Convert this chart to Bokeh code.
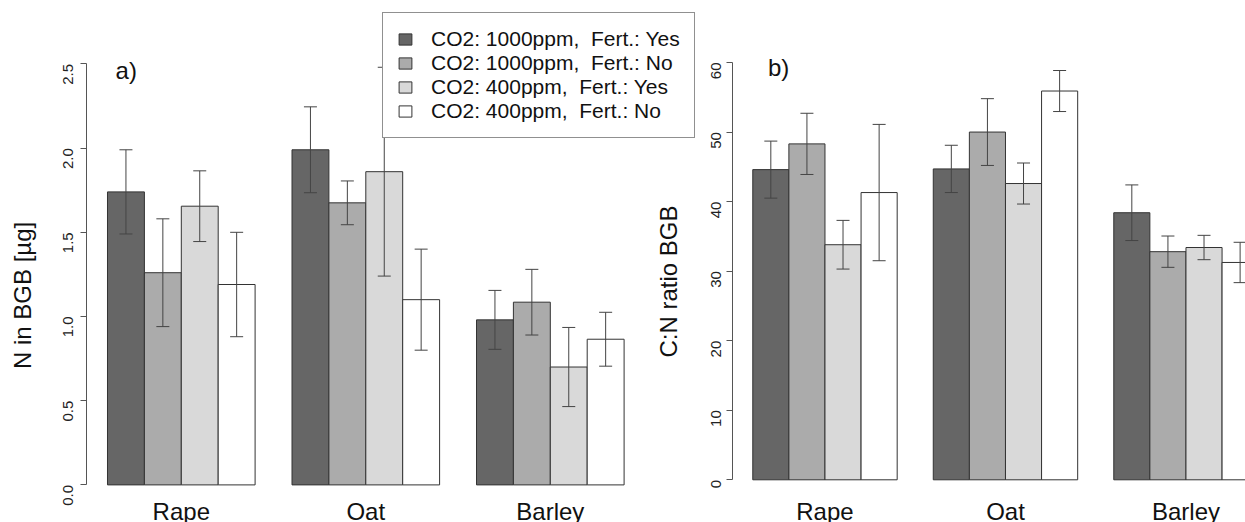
import numpy as np
from bokeh.plotting import figure
from bokeh.models import (Range1d, LinearAxis, FixedTicker, PrintfTickFormatter,
                          ColumnDataSource, Whisker, TeeHead, Legend, LegendItem, Label)
from bokeh.embed import file_html
from bokeh.resources import INLINE

# ---------------- data ----------------
crops = ["Rape", "Oat", "Barley"]
treatments = ["CO2: 1000ppm,  Fert.: Yes", "CO2: 1000ppm,  Fert.: No",
              "CO2: 400ppm,  Fert.: Yes", "CO2: 400ppm,  Fert.: No"]
colors = ["#666666", "#ABABAB", "#D9D9D9", "#FFFFFF"]

# panel a) N in BGB [µg]  (per treatment, values for Rape, Oat, Barley)
n_1000_yes = [1.74, 1.99, 0.98]
n_1000_no = [1.26, 1.675, 1.085]
n_400_yes = [1.655, 1.86, 0.70]
n_400_no = [1.19, 1.10, 0.865]
n_err_1000_yes = [0.25, 0.255, 0.175]
n_err_1000_no = [0.32, 0.13, 0.195]
n_err_400_yes = [0.21, 0.62, 0.235]
n_err_400_no = [0.31, 0.30, 0.16]

# panel b) C:N ratio BGB
cn_1000_yes = [44.6, 44.7, 38.4]
cn_1000_no = [48.3, 50.0, 32.8]
cn_400_yes = [33.8, 42.6, 33.4]
cn_400_no = [41.3, 55.9, 31.25]
cn_err_1000_yes = [4.1, 3.4, 4.0]
cn_err_1000_no = [4.4, 4.8, 2.25]
cn_err_400_yes = [3.5, 2.95, 1.75]
cn_err_400_no = [9.8, 2.95, 2.9]

n_ticks = [0.0, 0.5, 1.0, 1.5, 2.0, 2.5]
cn_ticks = [0, 10, 20, 30, 40, 50, 60]

n_means = [n_1000_yes, n_1000_no, n_400_yes, n_400_no]
n_errs = [n_err_1000_yes, n_err_1000_no, n_err_400_yes, n_err_400_no]
cn_means = [cn_1000_yes, cn_1000_no, cn_400_yes, cn_400_no]
cn_errs = [cn_err_1000_yes, cn_err_1000_no, cn_err_400_yes, cn_err_400_no]

# R barplot(beside=TRUE) layout: bar width 1, one bar of space between groups
n_groups = len(crops)
n_tr = len(treatments)
group_centers = [1 + g * (n_tr + 1) + n_tr / 2 for g in range(n_groups)]

def bar_centers(j):
    return [1 + g * (n_tr + 1) + j + 0.5 for g in range(n_groups)]

# ---------------- figure ----------------
W, H = 1245, 522
FONT = "Liberation Sans"

p = figure(width=W, height=H, output_backend="svg", toolbar_location=None,
           x_axis_location=None, y_axis_location=None, min_border=0,
           x_range=Range1d(-1.8997, 31.84), y_range=Range1d(-0.2233, 2.8765))
p.extra_x_ranges = {"r": Range1d(-19.839, 14.649)}
p.extra_y_ranges = {"r": Range1d(-6.139, 68.915)}
p.outline_line_color = None
p.grid.visible = False
p.background_fill_color = "white"

left_renderers = []
for j in range(n_tr):
    src_l = ColumnDataSource(dict(x=bar_centers(j), top=n_means[j]))
    r = p.vbar(x="x", top="top", bottom=0, width=1, source=src_l,
               fill_color=colors[j], line_color="#333333", line_width=1)
    left_renderers.append(r)
    src_r = ColumnDataSource(dict(x=bar_centers(j), top=cn_means[j]))
    p.vbar(x="x", top="top", bottom=0, width=1, source=src_r,
           fill_color=colors[j], line_color="#333333", line_width=1,
           x_range_name="r", y_range_name="r")

# error bars
def whisker(src, **kw):
    return Whisker(source=src, base="x", upper="up", lower="lo", dimension="height",
                   level="annotation", line_color="#444444", line_width=1,
                   upper_head=TeeHead(size=13, line_color="#444444", line_width=1),
                   lower_head=TeeHead(size=13, line_color="#444444", line_width=1), **kw)

for j in range(n_tr):
    m = np.array(n_means[j]); e = np.array(n_errs[j])
    s = ColumnDataSource(dict(x=bar_centers(j), up=m + e, lo=m - e))
    p.add_layout(whisker(s))
    m = np.array(cn_means[j]); e = np.array(cn_errs[j])
    s = ColumnDataSource(dict(x=bar_centers(j), up=m + e, lo=m - e))
    p.add_layout(whisker(s, x_range_name="r", y_range_name="r"))

# y axes
def style_y(ax, standoff):
    ax.axis_line_color = "#555555"
    ax.major_tick_line_color = "#555555"
    ax.minor_tick_line_color = None
    ax.major_tick_out = 6
    ax.major_tick_in = 0
    ax.major_label_orientation = np.pi / 2
    ax.major_label_standoff = standoff
    ax.major_label_text_font = FONT
    ax.major_label_text_font_size = "15px"
    ax.major_label_text_color = "#222222"

ly = LinearAxis(fixed_location=0.44, bounds=(0, 2.5), ticker=FixedTicker(ticks=n_ticks),
                formatter=PrintfTickFormatter(format="%.1f"))
style_y(ly, 13)
p.add_layout(ly, "left")

ry = LinearAxis(fixed_location=0.44, bounds=(0, 60), ticker=FixedTicker(ticks=cn_ticks),
                x_range_name="r", y_range_name="r")
style_y(ry, 11)
p.add_layout(ry, "left")

# category axes
def style_x(ax, standoff):
    ax.axis_line_color = None
    ax.major_tick_line_color = None
    ax.minor_tick_line_color = None
    ax.major_label_standoff = standoff
    ax.major_label_text_font = FONT
    ax.major_label_text_font_size = "24px"
    ax.major_label_text_color = "#111111"

overrides = {int(c) if float(c).is_integer() else c: name for c, name in zip(group_centers, crops)}
lx = LinearAxis(fixed_location=0, ticker=FixedTicker(ticks=group_centers),
                major_label_overrides=overrides)
style_x(lx, 7)
p.add_layout(lx, "below")
rx = LinearAxis(fixed_location=0, ticker=FixedTicker(ticks=group_centers),
                major_label_overrides=overrides, x_range_name="r", y_range_name="r")
style_x(rx, 12)
p.add_layout(rx, "below")

# axis titles and panel letters
p.add_layout(Label(x=-1.29, y=1.125, text="N in BGB [µg]", angle=np.pi / 2,
                   text_align="center", text_baseline="middle",
                   text_font=FONT, text_font_size="24px", text_color="#111111"))
p.add_layout(Label(x=-1.335, y=28.5, text="C:N ratio BGB", angle=np.pi / 2,
                   text_align="center", text_baseline="middle",
                   x_range_name="r", y_range_name="r",
                   text_font=FONT, text_font_size="24px", text_color="#111111"))
p.add_layout(Label(x=1.22, y=2.46, text="a)", text_align="left", text_baseline="middle",
                   text_font=FONT, text_font_size="24px", text_color="#111111"))
p.add_layout(Label(x=1.42, y=59.3, text="b)", text_align="left", text_baseline="middle",
                   x_range_name="r", y_range_name="r",
                   text_font=FONT, text_font_size="24px", text_color="#111111"))

# legend (added last so it covers what lies beneath)
legend = Legend(items=[LegendItem(label=t, renderers=[r]) for t, r in zip(treatments, left_renderers)],
                location=(382, 384))
legend.padding = 14
legend.spacing = 0
legend.margin = 0
legend.glyph_width = 16
legend.glyph_height = 14
legend.label_height = 22
legend.label_standoff = 18
legend.label_text_font = FONT
legend.label_text_font_size = "21px"
legend.label_text_color = "#111111"
legend.border_line_color = "#222222"
legend.border_line_width = 1
legend.background_fill_color = "white"
legend.background_fill_alpha = 1.0
p.add_layout(legend)

open("out.html", "w").write(file_html(p, INLINE))
